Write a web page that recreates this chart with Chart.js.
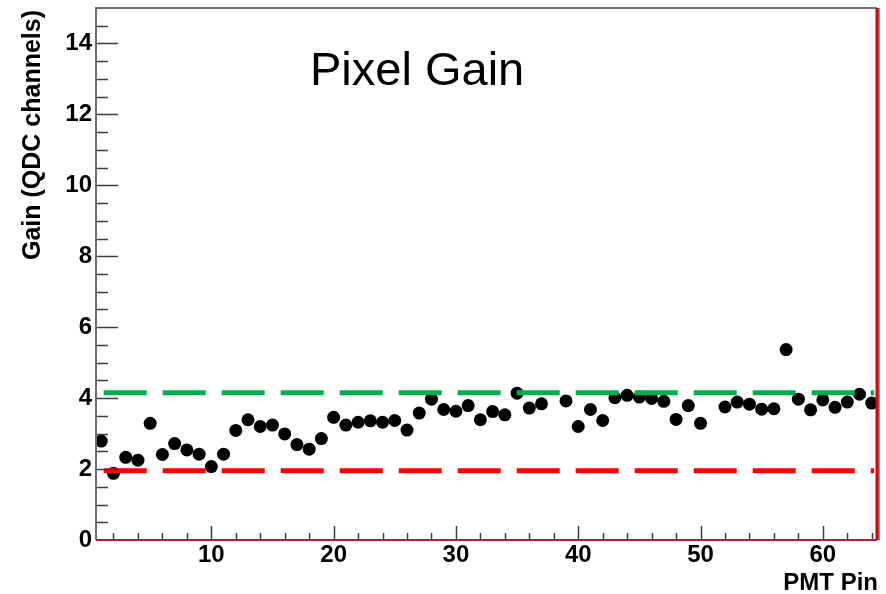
<!DOCTYPE html>
<html>
<head>
<meta charset="utf-8">
<script src="https://cdn.jsdelivr.net/npm/chart.js@4.4.1/dist/chart.umd.min.js"></script>
<style>
  html, body { margin: 0; padding: 0; background: #fff; }
  #wrap { width: 886px; height: 594px; }
</style>
</head>
<body>
<div id="wrap"><canvas id="gainchart"></canvas></div>
<script>
// PMT pins 1..64, gain in QDC channels (pins 38 and 51 have no entry)
const pins = [
  1, 2, 3, 4, 5, 6, 7, 8, 9, 10, 11, 12, 13, 14, 15, 16,
  17, 18, 19, 20, 21, 22, 23, 24, 25, 26, 27, 28, 29, 30, 31, 32,
  33, 34, 35, 36, 37, 38, 39, 40, 41, 42, 43, 44, 45, 46, 47, 48,
  49, 50, 51, 52, 53, 54, 55, 56, 57, 58, 59, 60, 61, 62, 63, 64
];
const gains = [
  2.79, 1.88, 2.33, 2.25, 3.29, 2.41, 2.72, 2.54, 2.42, 2.07, 2.42, 3.09, 3.39, 3.20, 3.24, 2.99,
  2.69, 2.56, 2.86, 3.46, 3.24, 3.32, 3.36, 3.32, 3.37, 3.10, 3.58, 3.97, 3.68, 3.63, 3.79, 3.39,
  3.62, 3.53, 4.14, 3.72, 3.84, null, 3.92, 3.20, 3.68, 3.37, 4.01, 4.08, 4.03, 3.99, 3.91, 3.40,
  3.79, 3.29, null, 3.75, 3.89, 3.83, 3.69, 3.70, 5.37, 3.97, 3.67, 3.95, 3.74, 3.89, 4.11, 3.86
];

// acceptance band drawn as dashed lines
const lowLimit = 1.95;
const highLimit = 4.15;
const limitFrom = 1.2;
const limitTo = 64.2;

const xTickLabels = [10, 20, 30, 40, 50, 60];
const yTickLabels = [0, 2, 4, 6, 8, 10, 12, 14];

const FONT = '"Liberation Sans", Arial, Helvetica, sans-serif';

const points = pins
  .map((p, i) => ({ x: p, y: gains[i] }))
  .filter(pt => pt.y !== null);

// ROOT-like frame: ticks pointing inward, coloured borders, axis titles
const frameAndTicks = {
  id: 'frameAndTicks',
  afterDatasetsDraw(chart) {
    const { ctx, chartArea: a, scales: { x, y } } = chart;
    ctx.save();

    ctx.strokeStyle = '#3c3c3c';
    ctx.lineWidth = 1.5;
    ctx.beginPath();
    for (let v = 2; v <= 64; v += 2) {
      const px = Math.round(x.getPixelForValue(v)) + 0.5;
      const len = v % 10 === 0 ? 14 : 7;
      ctx.moveTo(px, a.bottom);
      ctx.lineTo(px, a.bottom - len);
    }
    for (let v = 0.5; v < 15; v += 0.5) {
      const py = Math.round(y.getPixelForValue(v)) + 0.5;
      const len = v % 2 === 0 ? 22 : 12;
      ctx.moveTo(a.left, py);
      ctx.lineTo(a.left + len, py);
    }
    ctx.stroke();

    // top + left border
    ctx.lineWidth = 2;
    ctx.strokeStyle = '#6e6e6e';
    ctx.beginPath();
    ctx.moveTo(a.left, a.bottom);
    ctx.lineTo(a.left, a.top);
    ctx.lineTo(a.right, a.top);
    ctx.stroke();

    // bottom border
    ctx.strokeStyle = '#9a2a2a';
    ctx.beginPath();
    ctx.moveTo(a.left, a.bottom);
    ctx.lineTo(a.right, a.bottom);
    ctx.stroke();

    // right border
    ctx.lineWidth = 3;
    ctx.strokeStyle = '#e00000';
    ctx.beginPath();
    ctx.moveTo(a.right, a.top);
    ctx.lineTo(a.right, a.bottom);
    ctx.stroke();
    ctx.lineWidth = 1;
    ctx.strokeStyle = '#701010';
    ctx.beginPath();
    ctx.moveTo(a.right + 2, a.top);
    ctx.lineTo(a.right + 2, a.bottom);
    ctx.stroke();

    ctx.fillStyle = '#000';

    // plot title
    ctx.font = '47px ' + FONT;
    ctx.textAlign = 'left';
    ctx.textBaseline = 'alphabetic';
    ctx.fillText('Pixel Gain', a.left + 214, a.top + 77);

    // x title, right aligned under the axis
    ctx.font = 'bold 24px ' + FONT;
    ctx.textAlign = 'right';
    ctx.fillText('PMT Pin', a.right + 1, a.bottom + 50);

    // y title, rotated, ending at the top
    ctx.font = 'bold 25px ' + FONT;
    ctx.translate(33, a.top + 2);
    ctx.rotate(-Math.PI / 2);
    ctx.textAlign = 'right';
    ctx.textBaseline = 'middle';
    ctx.fillText('Gain (QDC channels)', 0, 0);

    ctx.restore();
  }
};

const ctx = document.getElementById('gainchart');

new Chart(ctx, {
  type: 'scatter',
  data: {
    datasets: [
      {
        type: 'line',
        label: 'upper',
        data: [{ x: limitFrom, y: highLimit }, { x: limitTo, y: highLimit }],
        showLine: true,
        borderColor: '#00b050',
        borderWidth: 5,
        borderDash: [43, 16],
        borderCapStyle: 'butt',
        pointRadius: 0,
        order: 0,
      },
      {
        type: 'line',
        label: 'lower',
        data: [{ x: limitFrom, y: lowLimit }, { x: limitTo, y: lowLimit }],
        showLine: true,
        borderColor: '#fe0000',
        borderWidth: 5,
        borderDash: [43, 16],
        borderCapStyle: 'butt',
        pointRadius: 0,
        order: 0,
      },
      {
        label: 'gain',
        data: points,
        backgroundColor: '#000',
        borderWidth: 0,
        pointRadius: 6.5,
        order: 1,
      },
    ],
  },
  options: {
    animation: false,
    responsive: true,
    maintainAspectRatio: false,
    events: [],
    layout: {
      padding: { top: 8, right: 9, left: 0, bottom: 0 },
    },
    plugins: {
      legend: { display: false },
      tooltip: { enabled: false },
      title: { display: false },
    },
    scales: {
      x: {
        type: 'linear',
        min: 0.57,
        max: 64.43,
        grid: { display: false, drawTicks: false },
        border: { display: false },
        afterFit: (s) => {
          s.height = 54;
          s.paddingLeft = 0;
          s.paddingRight = 0;
        },
        afterBuildTicks: (s) => { s.ticks = xTickLabels.map(v => ({ value: v })); },
        ticks: {
          color: '#000',
          padding: 1,
          maxRotation: 0,
          autoSkip: false,
          font: { family: FONT, weight: 'bold', size: 24 },
        },
      },
      y: {
        type: 'linear',
        min: 0,
        max: 15,
        grid: { display: false, drawTicks: false },
        border: { display: false },
        afterFit: (s) => {
          s.width = 96;
          s.paddingTop = 0;
          s.paddingBottom = 0;
        },
        afterBuildTicks: (s) => { s.ticks = yTickLabels.map(v => ({ value: v })); },
        ticks: {
          color: '#000',
          padding: 4,
          autoSkip: false,
          font: { family: FONT, weight: 'bold', size: 24 },
        },
      },
    },
  },
  plugins: [frameAndTicks],
});
</script>
</body>
</html>
